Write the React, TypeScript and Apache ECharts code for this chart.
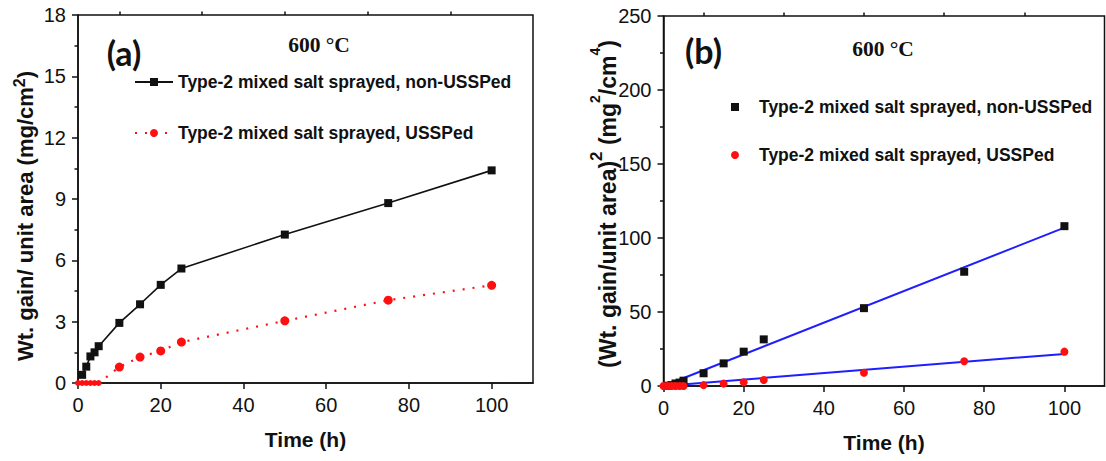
import React, { useEffect, useRef } from "react";
import * as echarts from "echarts";

// Oxidation kinetics at 600 °C, Type-2 mixed salt sprayed specimens
const legendLabels = [
  "Type-2 mixed salt sprayed, non-USSPed",
  "Type-2 mixed salt sprayed, USSPed",
];

// (a) weight gain per unit area, mg/cm^2 vs time (h)
const gainNonUSSP: [number, number][] = [
  [1, 0.4], [2, 0.8], [3, 1.3], [4, 1.5], [5, 1.8], [10, 2.94], [15, 3.85],
  [20, 4.8], [25, 5.6], [50, 7.26], [75, 8.8], [100, 10.4],
];
const gainUSSP: [number, number][] = [
  [0, 0], [1, 0], [2, 0], [3, 0], [4, 0], [5, 0], [10, 0.78], [15, 1.27],
  [20, 1.57], [25, 2.0], [50, 3.04], [75, 4.05], [100, 4.78],
];

// (b) squared weight gain, mg^2/cm^4 vs time (h), with linear parabolic-law fits
const sqNonUSSP: [number, number][] = [
  [1, 0.2], [2, 0.6], [3, 1.7], [4, 2.3], [5, 3.6], [10, 8.6], [15, 15.3],
  [20, 23.2], [25, 31.5], [50, 52.6], [75, 77.2], [100, 108],
];
const sqUSSP: [number, number][] = [
  [0, 0], [1, 0], [2, 0], [3, 0], [4, 0], [5, 0], [10, 0.6], [15, 1.6],
  [20, 2.5], [25, 4.0], [50, 9.0], [75, 16.7], [100, 23.2],
];
const fitNonUSSP: [number, number][] = [[0, 0], [100, 107]];
const fitUSSP: [number, number][] = [[0, 0], [100, 21.7]];

const xMajor = [0, 20, 40, 60, 80, 100];
const xMinor = [10, 30, 50, 70, 90];

const SANS = "'Liberation Sans', Arial, sans-serif";
const SERIF = "'Liberation Serif', 'Times New Roman', serif";
const PANEL_FONT = "Lato, 'Open Sans', sans-serif";
const INK = "#111";
const RED = "#ff1010";
const BLUE = "#1e1eff";
const SQUARE = "path://M0 0H10V10H0Z";

const grids = [
  { left: 78, top: 15, width: 455, height: 368 },
  { left: 663.5, top: 16, width: 441, height: 370 },
];

function mainX(gridIndex: number) {
  return {
    type: "value",
    gridIndex,
    min: 0,
    max: 110,
    interval: 20,
    name: "Time (h)",
    nameLocation: "middle",
    nameGap: 46,
    nameTextStyle: { fontFamily: SANS, fontWeight: "bold", fontSize: 21, color: INK },
    axisLine: { show: true, lineStyle: { color: INK, width: 1.5 } },
    axisTick: { show: true, customValues: xMajor, length: 6, lineStyle: { color: INK, width: 1.5 } },
    axisLabel: { customValues: xMajor, margin: 12, fontFamily: SANS, fontSize: 20, color: INK },
    splitLine: { show: false },
  };
}

function minorX(gridIndex: number) {
  return {
    type: "value",
    gridIndex,
    min: 0,
    max: 110,
    interval: 20,
    axisLine: { show: false },
    axisTick: { show: true, customValues: xMinor, length: 3.5, lineStyle: { color: INK, width: 1.5 } },
    axisLabel: { show: false },
    splitLine: { show: false },
  };
}

function yAxis(gridIndex: number, max: number, interval: number) {
  return {
    type: "value",
    gridIndex,
    min: 0,
    max,
    interval,
    axisLine: { show: true, lineStyle: { color: INK, width: 1.5 } },
    axisTick: { show: true, length: 6, lineStyle: { color: INK, width: 1.5 } },
    minorTick: { show: true, splitNumber: 2, length: 3.5, lineStyle: { color: INK, width: 1.5 } },
    axisLabel: { margin: 12, fontFamily: SANS, fontSize: 20, color: INK },
    splitLine: { show: false },
    minorSplitLine: { show: false },
  };
}

const titleToken = { fontFamily: SANS, fontWeight: "bold", fill: INK };

const legendFormatter = (name: string) =>
  name.startsWith("nonUSSP") ? legendLabels[0] : legendLabels[1];

export default function App() {
  const ref = useRef<HTMLDivElement>(null);

  useEffect(() => {
    if (!ref.current) return;
    const chart = echarts.init(ref.current, null, { renderer: "svg" });
    chart.setOption({
      animation: false,
      backgroundColor: "#fff",
      grid: grids.map((g) => ({
        ...g,
        show: true,
        borderColor: INK,
        borderWidth: 1.5,
        backgroundColor: "transparent",
        containLabel: false,
      })),
      xAxis: [mainX(0), mainX(1), minorX(0), minorX(1)],
      yAxis: [yAxis(0, 18, 3), yAxis(1, 250, 50)],
      legend: [
        {
          data: ["nonUSSP-a", "USSP-a"],
          formatter: legendFormatter,
          orient: "vertical",
          left: 129,
          top: 68,
          itemWidth: 38,
          itemHeight: 10,
          itemGap: 33,
          selectedMode: false,
          textStyle: { fontFamily: SANS, fontWeight: "bold", fontSize: 17.5, color: INK, lineHeight: 18 },
        },
        {
          data: [{ name: "nonUSSP-b", icon: SQUARE }, { name: "USSP-b", icon: "circle" }],
          formatter: legendFormatter,
          orient: "vertical",
          left: 726,
          top: 93,
          itemWidth: 38,
          itemHeight: 8,
          itemGap: 30,
          selectedMode: false,
          textStyle: { fontFamily: SANS, fontWeight: "bold", fontSize: 17.5, color: INK, lineHeight: 18 },
        },
      ],
      series: [
        {
          name: "nonUSSP-a",
          type: "line",
          xAxisIndex: 0,
          yAxisIndex: 0,
          data: gainNonUSSP,
          symbol: "rect",
          symbolSize: 8,
          itemStyle: { color: INK },
          lineStyle: { color: INK, width: 1.6 },
          z: 3,
        },
        {
          name: "USSP-a",
          type: "line",
          xAxisIndex: 0,
          yAxisIndex: 0,
          data: gainUSSP,
          symbol: "circle",
          symbolSize: (v: number[]) => (v[1] === 0 ? 6 : 9),
          itemStyle: { color: RED },
          lineStyle: { color: RED, width: 2.2, type: [2, 8] },
          z: 3,
        },
        {
          name: "fitNonUSSP",
          type: "line",
          xAxisIndex: 1,
          yAxisIndex: 1,
          data: fitNonUSSP,
          symbol: "none",
          lineStyle: { color: BLUE, width: 2 },
          z: 2,
        },
        {
          name: "fitUSSP",
          type: "line",
          xAxisIndex: 1,
          yAxisIndex: 1,
          data: fitUSSP,
          symbol: "none",
          lineStyle: { color: BLUE, width: 2 },
          z: 2,
        },
        {
          name: "nonUSSP-b",
          type: "scatter",
          xAxisIndex: 1,
          yAxisIndex: 1,
          data: sqNonUSSP,
          symbol: "rect",
          symbolSize: 8,
          itemStyle: { color: INK, opacity: 1 },
          z: 3,
        },
        {
          name: "USSP-b",
          type: "scatter",
          xAxisIndex: 1,
          yAxisIndex: 1,
          data: sqUSSP,
          symbol: "circle",
          symbolSize: 8,
          itemStyle: { color: RED, opacity: 1 },
          z: 3,
        },
      ],
      graphic: [
        // y-axis titles, written bottom-to-top
        {
          type: "text",
          x: 25.5,
          y: 216,
          rotation: Math.PI / 2,
          style: {
            text: "{t|Wt. gain/ unit area (mg/cm}{s|2}{t|)}",
            align: "center",
            verticalAlign: "middle",
            rich: {
              t: { ...titleToken, fontSize: 22, lineHeight: 28 },
              s: { ...titleToken, fontSize: 16, lineHeight: 16, verticalAlign: "top" },
            },
          },
        },
        {
          type: "text",
          x: 608,
          y: 204,
          rotation: Math.PI / 2,
          style: {
            text: "{t|(Wt. gain/unit area)}{b|2}{t| (mg}{s|2}{t|/cm}{s|4}{t|)}",
            align: "center",
            verticalAlign: "middle",
            rich: {
              t: { ...titleToken, fontSize: 23, lineHeight: 40 },
              b: { ...titleToken, fontSize: 17, lineHeight: 17, verticalAlign: "top" },
              s: { ...titleToken, fontSize: 14, lineHeight: 14, verticalAlign: "top" },
            },
          },
        },
        {
          type: "text",
          x: 124,
          y: 52,
          style: { text: "(a)", fontFamily: PANEL_FONT, fontWeight: "bold", fontSize: 34, fill: INK, align: "center", verticalAlign: "middle" },
        },
        {
          type: "text",
          x: 703.5,
          y: 50,
          style: { text: "(b)", fontFamily: PANEL_FONT, fontWeight: "bold", fontSize: 34, fill: INK, align: "center", verticalAlign: "middle" },
        },
        {
          type: "text",
          x: 319,
          y: 45,
          style: { text: "600 °C", fontFamily: SERIF, fontWeight: "bold", fontSize: 21.5, fill: INK, align: "center", verticalAlign: "middle" },
        },
        {
          type: "text",
          x: 883,
          y: 49,
          style: { text: "600 °C", fontFamily: SERIF, fontWeight: "bold", fontSize: 21.5, fill: INK, align: "center", verticalAlign: "middle" },
        },
      ],
    });
    return () => chart.dispose();
  }, []);

  return (
    <div
      ref={ref}
      style={{ position: "absolute", left: 0, top: 0, width: 1106, height: 461, background: "#fff" }}
    />
  );
}
